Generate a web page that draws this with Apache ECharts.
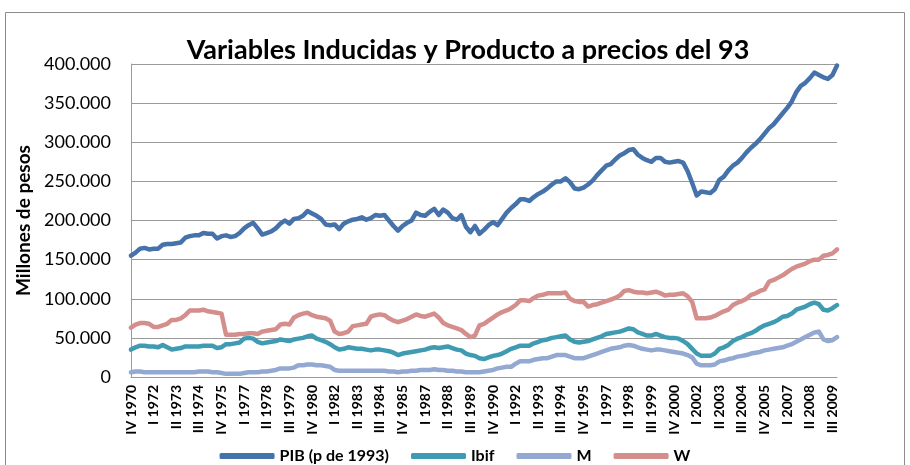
<!DOCTYPE html>
<html>
<head>
<meta charset="utf-8">
<script src="https://cdn.jsdelivr.net/npm/echarts@6/dist/echarts.min.js"></script>
</head>
<body style="margin:0">
<div id="chart" style="width:910px;height:465px"></div>
<script type="text/javascript">
// miles de millones de pesos (valores en miles), trimestral IV 1970 - IV 2009
var quarterNames = ['I', 'II', 'III', 'IV'];
var firstYear = 1970, firstQuarter = 3, nQuarters = 157;

var pib = [155,159,164,165,163,164,164,169,170,170,171,172,178,180,181,181,184,183,183,177,
  180,181,179,180,184,190,194,197,190,182,184,186,190,196,200,196,202,203,206,212,
  209,206,202,195,194,195,189,196,199,201,202,204,201,203,207,206,207,200,193,187,
  193,197,200,210,207,206,211,215,207,214,210,203,201,207,192,185,193,183,188,194,
  198,194,202,210,216,221,227,227,225,230,234,237,241,246,250,250,254,249,241,240,
  242,246,251,258,264,270,272,278,283,286,290,291,284,280,277,275,280,280,275,274,
  275,276,274,263,248,232,237,236,235,240,252,256,264,270,274,280,287,293,298,304,
  311,318,323,330,337,344,352,364,372,376,382,389,386,383,381,386,398];

var ibif = [35,38,40,40,39,39,38,41,38,35,36,37,39,39,39,39,40,40,40,37,
  38,42,42,43,44,49,50,49,45,43,44,45,46,48,47,46,48,49,50,52,
  53,49,47,45,42,38,35,36,38,37,36,36,35,34,35,35,34,33,31,28,
  30,31,32,33,34,35,37,38,37,38,39,37,35,34,30,28,27,24,23,25,
  27,28,30,33,36,38,40,40,40,43,45,47,48,50,51,52,53,48,45,44,
  45,46,48,50,52,55,56,57,58,60,62,61,57,55,53,53,55,53,51,50,
  50,49,46,42,36,30,27,27,27,30,36,38,41,46,49,51,54,56,59,63,
  66,68,70,73,77,78,81,86,88,90,93,95,93,86,85,88,92];

var m = [6,7,7,6,6,6,6,6,6,6,6,6,6,6,6,7,7,7,6,6,
  5,4,4,4,4,5,6,6,6,7,7,8,9,11,11,11,12,15,15,16,
  16,15,15,14,13,9,8,8,8,8,8,8,8,8,8,8,8,7,7,6,
  7,7,8,8,9,9,9,10,9,9,8,8,7,7,6,6,6,6,7,8,
  9,11,12,13,13,17,20,20,20,22,23,24,24,26,28,28,28,26,24,24,
  24,26,28,30,32,34,36,37,38,40,41,40,38,36,35,34,35,35,34,33,
  32,31,30,28,25,17,15,15,15,16,20,21,23,24,26,27,28,30,31,32,
  34,35,36,37,38,40,42,45,48,51,54,57,58,48,46,47,51];

var w = [63,67,69,69,68,64,64,66,68,73,73,75,79,85,85,85,86,84,83,82,
  81,54,54,54,55,55,56,56,55,58,59,60,61,67,68,67,76,79,81,82,
  79,77,76,75,72,58,55,56,58,65,66,67,68,77,79,80,79,75,72,70,
  72,74,77,80,78,77,79,81,76,69,66,64,62,60,55,51,53,66,68,72,
  76,80,83,85,88,92,98,98,97,101,104,105,107,107,107,107,108,100,97,96,
  96,90,92,93,95,97,99,101,104,110,111,109,108,108,107,108,109,107,104,105,
  105,106,107,103,96,75,75,75,76,78,81,84,86,92,95,97,100,105,107,110,
  112,122,124,127,130,134,138,141,143,145,148,150,150,155,156,158,163];

var seriesNames = ['PIB (p de 1993)', 'Ibif', 'M', 'W'];
var seriesColors = ['#4572AA', '#3F9BB2', '#93A9D2', '#D48E8C'];

var categories = [];
for (var i = 0; i < nQuarters; i++) {
    var q = (firstQuarter + i) % 4;
    var y = firstYear + Math.floor((firstQuarter + i) / 4);
    categories.push(quarterNames[q] + ' ' + y);
}

var chart = echarts.init(document.getElementById('chart'));
var font = 'Lato, "Open Sans", sans-serif';

var option = {
    backgroundColor: '#ffffff',
    animation: false,
    textStyle: { fontFamily: font },
    title: {
        text: 'Variables Inducidas y Producto a precios del 93',
        left: 463,
        textAlign: 'center',
        top: 32,
        textStyle: { fontFamily: font, fontSize: 27, fontWeight: 'bold', color: '#000' }
    },
    graphic: [{
        type: 'rect',
        shape: { x: 5.5, y: 12.5, width: 899, height: 470 },
        style: { fill: 'none', stroke: '#8c8c8c', lineWidth: 1 },
        silent: true
    }],
    legend: {
        data: seriesNames,
        left: 'center',
        top: 443,
        icon: 'roundRect',
        itemWidth: 55,
        itemHeight: 6,
        itemGap: 22,
        textStyle: { fontFamily: font, fontSize: 16, fontWeight: 'bold', color: '#000' }
    },
    grid: { left: 131, right: 73, top: 64, bottom: 88 },
    xAxis: {
        type: 'category',
        data: categories,
        boundaryGap: false,
        axisLine: { lineStyle: { color: '#9a9a9a', width: 1 } },
        axisTick: { show: false },
        axisLabel: {
            interval: 4,
            rotate: 90,
            margin: 8,
            fontSize: 14,
            fontWeight: 'bold',
            color: '#000'
        }
    },
    yAxis: {
        type: 'value',
        min: 0,
        max: 400,
        interval: 50,
        name: 'Millones de pesos',
        nameLocation: 'middle',
        nameRotate: 90,
        nameGap: 95,
        nameTextStyle: { fontFamily: font, fontSize: 19, fontWeight: 'bold', color: '#000' },
        axisLine: { show: true, lineStyle: { color: '#9a9a9a', width: 1 } },
        axisTick: { show: false },
        splitLine: { lineStyle: { color: '#9a9a9a', width: 1 } },
        axisLabel: {
            margin: 20,
            fontSize: 18,
            color: '#000',
            formatter: function (v) { return v === 0 ? '0' : v + '.000'; }
        }
    },
    series: [pib, ibif, m, w].map(function (d, k) {
        return {
            name: seriesNames[k],
            type: 'line',
            data: d,
            showSymbol: false,
            lineStyle: { width: 4.5, color: seriesColors[k], cap: 'round', join: 'round' },
            itemStyle: { color: seriesColors[k] },
            z: 10 - k
        };
    })
};
chart.setOption(option);
</script>
</body>
</html>
